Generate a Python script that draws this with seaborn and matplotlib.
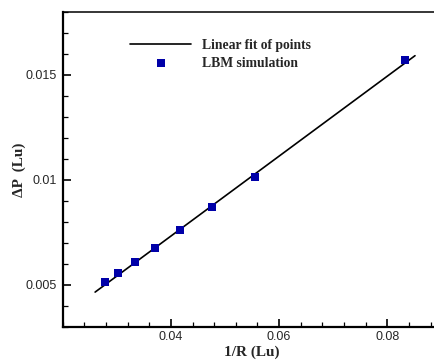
import matplotlib
matplotlib.use("Agg")
import matplotlib.pyplot as plt
import pandas as pd
import seaborn as sns
from matplotlib.ticker import MultipleLocator

# LBM simulation points: 1/R against pressure jump
inv_r = [0.02778, 0.03030, 0.03333, 0.03704, 0.04167, 0.04762, 0.05556, 0.08333]
delta_p = [0.00511, 0.00556, 0.00608, 0.00674, 0.00760, 0.00869, 0.01013, 0.01573]

# linear fit, end points
fit_x = [0.0260, 0.0851]
fit_y = [0.00465, 0.01592]

points = pd.DataFrame({"inv_r": inv_r, "delta_p": delta_p})
fit = pd.DataFrame({"inv_r": fit_x, "delta_p": fit_y})

sns.set_theme(style="ticks")
plt.rcParams["font.family"] = ["Liberation Sans", "DejaVu Sans"]

fig = plt.figure(figsize=(4.35, 3.6), dpi=100)
ax = fig.add_axes([0.144, 0.0925, 0.871, 0.874])

sns.lineplot(data=fit, x="inv_r", y="delta_p", ax=ax, color="black",
             linewidth=1.2, label="Linear fit of points")
sns.scatterplot(data=points, x="inv_r", y="delta_p", ax=ax, marker="s",
                s=28, color="#0000a8", edgecolor="#0000a8", linewidth=0,
                label="LBM simulation", zorder=3)

ax.set_xlim(0.02, 0.09)
ax.set_ylim(0.003, 0.018)
ax.xaxis.set_minor_locator(MultipleLocator(0.004))
ax.yaxis.set_minor_locator(MultipleLocator(0.001))
ax.set_xticks([0.04, 0.06, 0.08])
ax.set_xticklabels(["0.04", "0.06", "0.08"])
ax.set_yticks([0.005, 0.01, 0.015])
ax.set_yticklabels(["0.005", "0.01", "0.015"])

ax.tick_params(which="major", direction="in", length=6, width=1.2,
               labelsize=9, pad=4, color="black", top=False, right=False)
ax.tick_params(which="minor", direction="in", length=3.5, width=0.9,
               color="black", top=False, right=False)
ax.tick_params(axis="x", pad=3)

for side in ["left", "bottom"]:
    ax.spines[side].set_linewidth(1.6)
ax.spines["top"].set_linewidth(1.1)
ax.spines["right"].set_linewidth(1.1)
for sp in ax.spines.values():
    sp.set_color("black")

serif_bold = {"family": ["Liberation Serif", "DejaVu Serif"], "weight": "bold", "size": 11}
ax.set_xlabel("1/R (Lu)", fontdict=serif_bold, labelpad=2)
ax.set_ylabel("ΔP  (Lu)", fontdict=serif_bold)
ax.yaxis.set_label_coords(-0.097, 0.5)

leg = ax.legend(loc="center left", bbox_to_anchor=(0.178, 0.865), frameon=False,
                prop={"family": ["Liberation Serif", "DejaVu Serif"], "weight": "bold", "size": 9.8},
                handlelength=4.5, handletextpad=0.8, labelspacing=0.35,
                borderpad=0, borderaxespad=0, markerscale=1.0)

fig.savefig("out.png", dpi=100)
